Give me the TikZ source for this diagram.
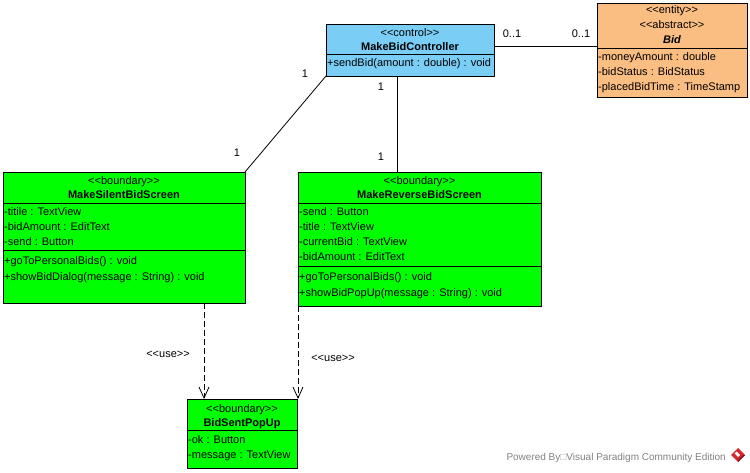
\documentclass[tikz,border=0pt]{standalone}
\usepackage{fontspec}
\setmainfont{Liberation Sans}
\usetikzlibrary{arrows.meta}
\definecolor{ctrlblue}{RGB}{122,206,245}
\definecolor{entityorange}{RGB}{250,190,130}
\definecolor{boundgreen}{RGB}{0,255,0}
\definecolor{footgray}{RGB}{128,128,128}
\definecolor{vpred}{RGB}{214,38,44}
% stereotype brackets kept as two separate characters
\newcommand{\stereo}[1]{<\kern0pt<#1>\kern0pt>}
\begin{document}
\begin{tikzpicture}[x=1pt,y=-1pt,
  every node/.style={font=\fontsize{11}{13}\selectfont},
  classbox/.style={draw=black,line width=0.9pt,inner sep=0pt,outer sep=0pt},
  divider/.style={line width=0.9pt},
  txt/.style={inner sep=0pt,text height=8pt,text depth=0pt},
  member/.style={txt,anchor=west},
  assoc/.style={line width=0.8pt},
  usedep/.style={line width=0.8pt,dash pattern=on 6pt off 3pt,
    -{Straight Barb[length=11pt,width=10pt,line width=0.8pt]}},
  mult/.style={txt},
]
\useasboundingbox (0,0) rectangle (750,473);

% ---------- MakeBidController ----------
\node[classbox,fill=ctrlblue,minimum width=168pt,minimum height=52pt] (ctrl) at (410,50) {};
\node[txt] (ctrlst) at (410,33) {\stereo{control}};
\node[txt,font=\fontsize{11}{13}\selectfont\bfseries] (ctrlnm) at (410,47) {MakeBidController};
\draw[divider] (326,54) -- (494,54);
\node[member] (ctrlm1) at (327,63) {+sendBid(amount : double) : void};

% ---------- Bid ----------
\node[classbox,fill=entityorange,minimum width=150pt,minimum height=94pt] (bid) at (672,50) {};
\node[txt] (bidst1) at (672,10) {\stereo{entity}};
\node[txt] (bidst2) at (672,25) {\stereo{abstract}};
\node[txt,font=\fontsize{11}{13}\selectfont\bfseries\itshape] (bidnm) at (672,40) {Bid};
\draw[divider] (597,48) -- (747,48);
\node[member] (bida1) at (598,57) {-moneyAmount : double};
\node[member] (bida2) at (598,72) {-bidStatus : BidStatus};
\node[member] (bida3) at (598,87) {-placedBidTime : TimeStamp};

% ---------- MakeSilentBidScreen ----------
\node[classbox,fill=boundgreen,minimum width=242pt,minimum height=131pt] (silent) at (124,237.5) {};
\node[txt] (silst) at (124,181) {\stereo{boundary}};
\node[txt,font=\fontsize{11}{13}\selectfont\bfseries] (silnm) at (124,195) {MakeSilentBidScreen};
\draw[divider] (3,203) -- (245,203);
\node[member] (sila1) at (4,212) {-titile : TextView};
\node[member] (sila2) at (4,227) {-bidAmount : EditText};
\node[member] (sila3) at (4,242) {-send : Button};
\draw[divider] (3,250) -- (245,250);
\node[member] (silm1) at (4,261) {+goToPersonalBids() : void};
\node[member] (silm2) at (4,276) {+showBidDialog(message : String) : void};

% ---------- MakeReverseBidScreen ----------
\node[classbox,fill=boundgreen,minimum width=243pt,minimum height=134pt] (rev) at (419.5,239) {};
\node[txt] (revst) at (419.5,181) {\stereo{boundary}};
\node[txt,font=\fontsize{11}{13}\selectfont\bfseries] (revnm) at (419.5,195) {MakeReverseBidScreen};
\draw[divider] (298,203) -- (541,203);
\node[member] (reva1) at (299,212) {-send : Button};
\node[member] (reva2) at (299,227) {-title : TextView};
\node[member] (reva3) at (299,242) {-currentBid : TextView};
\node[member] (reva4) at (299,257) {-bidAmount : EditText};
\draw[divider] (298,266) -- (541,266);
\node[member] (revm1) at (299,276) {+goToPersonalBids() : void};
\node[member] (revm2) at (299,292) {+showBidPopUp(message : String) : void};

% ---------- BidSentPopUp ----------
\node[classbox,fill=boundgreen,minimum width=110pt,minimum height=69pt] (popup) at (242,433.5) {};
\node[txt] (popst) at (242,408) {\stereo{boundary}};
\node[txt,font=\fontsize{11}{13}\selectfont\bfseries] (popnm) at (242,422) {BidSentPopUp};
\draw[divider] (187,430) -- (297,430);
\node[member] (popa1) at (188,439) {-ok : Button};
\node[member] (popa2) at (188,454) {-message : TextView};

% ---------- associations ----------
\draw[assoc] (ctrl.south west) -- (silent.north east);
\node[mult] (m1) at (305,74) {1};
\node[mult] (m2) at (237,153) {1};

\draw[assoc] ([xshift=-13pt]ctrl.south) -- ([xshift=-13pt]ctrl.south |- rev.north);
\node[mult] (m3) at (381,87) {1};
\node[mult] (m4) at (381,157) {1};

\draw[assoc] ([yshift=4pt]ctrl.east) -- ([yshift=4pt]bid.west);
\node[mult] (m5) at (512,34) {0..1};
\node[mult] (m6) at (581,34) {0..1};

% ---------- dependencies ----------
\draw[usedep] ([xshift=80pt]silent.south) -- ([xshift=80pt]silent.south |- popup.north);
\node[txt] (use1) at (168,353) {\stereo{use}};
\draw[usedep] (rev.south west) -- (rev.south west |- popup.north);
\node[txt] (use2) at (333,357) {\stereo{use}};

% ---------- footer ----------
\node[txt,anchor=east,text=footgray,font=\fontsize{10}{12}\selectfont] (footer) at (726,456)
  {Powered By\textcolor{footgray!70}{□}Visual Paradigm Community Edition};
\fill[vpred] (738,448) -- (745,455) -- (738,462) -- (731,455) -- cycle;
\fill[white] (736.5,451.5) -- (740,455) -- (738,457) -- (734.5,453.5) -- cycle;
\fill[vpred!60!black] (738,462) -- (745,455) -- (743,455) -- (738,460) -- cycle;
\end{tikzpicture}
\end{document}
